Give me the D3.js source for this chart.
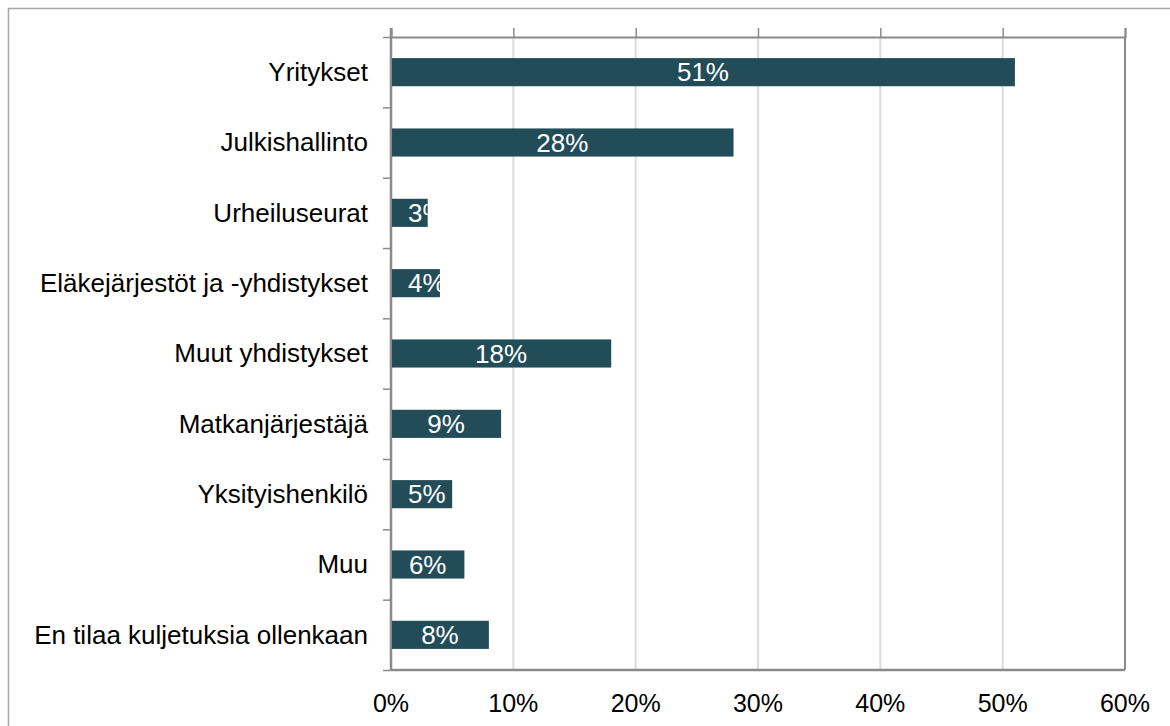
<!DOCTYPE html>
<html>
<head>
<meta charset="utf-8">
<script src="https://cdn.jsdelivr.net/npm/d3@7"></script>
<style>
  body { margin: 0; background: #fff; }
  text { font-family: "Liberation Sans", Arial, sans-serif; }
</style>
</head>
<body>
<div id="chart"></div>
<script>
var categories = ["Yritykset", "Julkishallinto", "Urheiluseurat", "Eläkejärjestöt ja -yhdistykset",
                  "Muut yhdistykset", "Matkanjärjestäjä", "Yksityishenkilö", "Muu",
                  "En tilaa kuljetuksia ollenkaan"];
var values = [51, 28, 3, 4, 18, 9, 5, 6, 8];
var xTicks = [0, 10, 20, 30, 40, 50, 60];

var W = 1170, H = 726;
var margin = {top: 37, right: 45, bottom: 56, left: 391};
var width = 1125 - margin.left;
var height = 670 - margin.top;
var barColor = "#234c59";
var axisColor = "#8a8a8a";
var gridColor = "#dcdcdc";

var svg = d3.select("#chart").append("svg")
    .attr("width", W)
    .attr("height", H);

// outer frame
svg.append("rect")
   .attr("x", 8.5).attr("y", 8.5)
   .attr("width", W + 10).attr("height", H + 10)
   .attr("fill", "none")
   .attr("stroke", "#a6a6a6")
   .attr("stroke-width", 1.5);

var g = svg.append("g")
    .attr("transform", "translate(" + margin.left + "," + margin.top + ")");

var xScale = d3.scaleLinear().domain([0, 60]).range([0, width]);
var yScale = d3.scaleBand()
    .domain(categories)
    .range([0, height])
    .paddingInner(0.6)
    .paddingOuter(0.3);
var yBound = d3.scaleLinear().domain([0, categories.length]).range([0, height]);

// gridlines
g.selectAll(".grid")
  .data(xTicks.slice(1, -1))
  .enter().append("line")
  .attr("x1", function(d) { return xScale(d); })
  .attr("x2", function(d) { return xScale(d); })
  .attr("y1", 0).attr("y2", height)
  .attr("stroke", gridColor)
  .attr("stroke-width", 2);

// top axis ticks (no labels)
var topAxis = g.append("g")
  .call(d3.axisTop(xScale).tickValues(xTicks).tickSize(9).tickFormat(""));
topAxis.select(".domain").attr("stroke", axisColor).attr("stroke-width", 2);
topAxis.selectAll(".tick line").attr("stroke", axisColor).attr("stroke-width", 1.5);

// frame lines: right, bottom
g.append("line").attr("x1", width).attr("x2", width).attr("y1", 0).attr("y2", height)
  .attr("stroke", axisColor).attr("stroke-width", 2);
g.append("line").attr("x1", 0).attr("x2", width).attr("y1", height).attr("y2", height)
  .attr("stroke", axisColor).attr("stroke-width", 2.5);

// left axis with boundary ticks
var leftAxis = g.append("g")
  .call(d3.axisLeft(yBound).ticks(categories.length).tickSize(8).tickFormat(""));
leftAxis.select(".domain").remove();
leftAxis.selectAll(".tick line").attr("stroke", axisColor).attr("stroke-width", 1.5);
g.append("line").attr("x1", 0).attr("x2", 0).attr("y1", -9).attr("y2", height)
  .attr("stroke", axisColor).attr("stroke-width", 2.5);

// bottom tick labels
g.selectAll(".xlabel")
  .data(xTicks)
  .enter().append("text")
  .attr("x", function(d) { return xScale(d); })
  .attr("y", height + 42)
  .attr("text-anchor", "middle")
  .attr("font-size", 25)
  .attr("fill", "#000")
  .text(function(d) { return d + "%"; });

// category labels
g.selectAll(".ylabel")
  .data(categories)
  .enter().append("text")
  .attr("x", -23)
  .attr("y", function(d) { return yScale(d) + yScale.bandwidth() / 2; })
  .attr("dy", "0.34em")
  .attr("text-anchor", "end")
  .attr("font-size", 26)
  .attr("fill", "#000")
  .text(function(d) { return d; });

var data = categories.map(function(c, i) { return {cat: c, val: values[i], i: i}; });

// clip paths so labels do not spill out of short bars
var defs = svg.append("defs");
defs.selectAll("clipPath")
  .data(data)
  .enter().append("clipPath")
  .attr("id", function(d) { return "clip" + d.i; })
  .append("rect")
  .attr("x", 0)
  .attr("y", function(d) { return yScale(d.cat); })
  .attr("width", function(d) { return xScale(d.val); })
  .attr("height", yScale.bandwidth());

g.selectAll(".bar")
  .data(data)
  .enter().append("rect")
  .attr("class", "bar")
  .attr("x", 1)
  .attr("y", function(d) { return yScale(d.cat); })
  .attr("width", function(d) { return xScale(d.val) - 1; })
  .attr("height", yScale.bandwidth())
  .attr("fill", barColor);

g.selectAll(".vlabel")
  .data(data)
  .enter().append("text")
  .attr("clip-path", function(d) { return "url(#clip" + d.i + ")"; })
  .attr("y", function(d) { return yScale(d.cat) + yScale.bandwidth() / 2; })
  .attr("dy", "0.35em")
  .attr("font-size", 26)
  .attr("fill", "#fff")
  .text(function(d) { return d.val + "%"; })
  .attr("x", function(d) {
    var w = this.getComputedTextLength();
    return Math.max(xScale(d.val) / 2 - w / 2, 17);
  });
</script>
</body>
</html>
